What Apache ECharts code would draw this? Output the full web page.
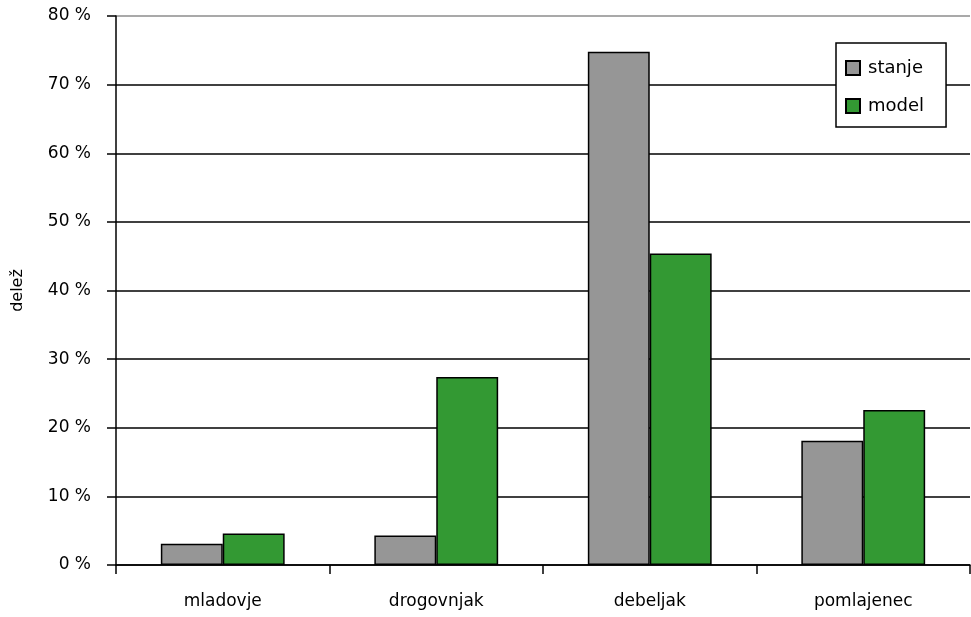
<!DOCTYPE html>
<html>
<head>
<meta charset="utf-8">
<script src="https://cdn.jsdelivr.net/npm/echarts@6/dist/echarts.min.js"></script>
<style>
  html, body { margin: 0; padding: 0; background: #fff; }
  #chart { width: 971px; height: 617px; }
</style>
</head>
<body>
<div id="chart"></div>
<script>
// Development stages and their shares (percent)
var categories = ['mladovje', 'drogovnjak', 'debeljak', 'pomlajenec'];
var stanje = [3.1, 4.3, 74.8, 18.1];
var model = [4.6, 27.4, 45.4, 22.6];
var seriesNames = ['stanje', 'model'];
var yTicks = [0, 10, 20, 30, 40, 50, 60, 70, 80];

var FONT = 'DejaVu Sans';

// horizontal grid lines: black, the top one grey
var gridColors = yTicks.map(function (v, i) { return i === yTicks.length - 1 ? '#8c8c8c' : '#000'; });

var chart = echarts.init(document.getElementById('chart'), null, { renderer: 'canvas' });
chart.setOption({
  animation: false,
  backgroundColor: '#fff',
  grid: { left: 116, right: 1, top: 16, bottom: 52, containLabel: false },
  legend: {
    data: seriesNames,
    orient: 'vertical',
    left: 836,
    top: 43,
    padding: [16, 22, 12, 9],
    itemGap: 20,
    itemWidth: 14,
    itemHeight: 14,
    icon: 'rect',
    borderColor: '#000',
    borderWidth: 1.5,
    backgroundColor: '#fff',
    textStyle: { fontFamily: FONT, fontSize: 18, color: '#000', padding: [0, 0, 0, 3] }
  },
  xAxis: {
    type: 'category',
    data: categories,
    axisLine: { lineStyle: { color: '#000', width: 1.5 } },
    axisTick: { show: true, length: 9, lineStyle: { color: '#000', width: 1.5 } },
    axisLabel: { fontFamily: FONT, fontSize: 17, color: '#000', margin: 28 }
  },
  yAxis: {
    type: 'value',
    min: yTicks[0],
    max: yTicks[yTicks.length - 1],
    interval: 10,
    name: 'delež',
    nameLocation: 'middle',
    nameGap: 90,
    nameRotate: 90,
    nameTextStyle: { fontFamily: FONT, fontSize: 16, color: '#000' },
    axisLine: { show: true, lineStyle: { color: '#000', width: 1.5 } },
    axisTick: { show: true, length: 9, lineStyle: { color: '#000', width: 1.5 } },
    axisLabel: {
      fontFamily: FONT, fontSize: 17, color: '#000', margin: 25,
      formatter: function (v) { return v + ' %'; }
    },
    splitLine: { show: true, lineStyle: { color: gridColors, width: 1.5 } }
  },
  series: [
    {
      name: seriesNames[0],
      type: 'bar',
      data: stanje,
      barGap: '0%',
      barCategoryGap: '42%',
      itemStyle: { color: '#969696', borderColor: '#000', borderWidth: 1.5 }
    },
    {
      name: seriesNames[1],
      type: 'bar',
      data: model,
      itemStyle: { color: '#339933', borderColor: '#000', borderWidth: 1.5 }
    }
  ]
});
</script>
</body>
</html>
